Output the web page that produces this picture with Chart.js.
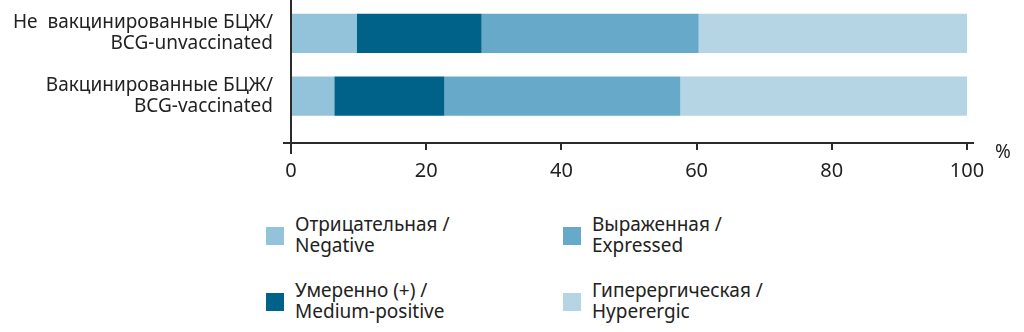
<!DOCTYPE html>
<html lang="ru">
<head>
<meta charset="utf-8">
<script src="https://cdn.jsdelivr.net/npm/chart.js"></script>
<style>
    body { margin: 0; background: #fff; font-family: "Noto Sans", sans-serif; color: #222; }
    .grafico { position: relative; width: 1024px; height: 190px; }
    .legenda {
        position: absolute; left: 266px; top: 214px;
        display: grid; grid-template-rows: 66px 66px; grid-template-columns: 297px 297px;
        grid-auto-flow: column;
    }
    .legenda-item { display: flex; align-items: flex-start; }
    .legenda-icone { width: 18px; height: 18px; margin: 13px 11px 0 0; flex: none; }
    .legenda-texto { font-size: 19px; line-height: 21px; }
</style>
</head>
<body>
<div class="grafico"><canvas id="report"></canvas></div>
<div class="legenda"></div>

<script>
// Группы (сверху вниз)
const categoriasRu = ['Не  вакцинированные БЦЖ', 'Вакцинированные БЦЖ'];
const categoriasEn = ['BCG-unvaccinated', 'BCG-vaccinated'];

// Тип реакции
const seriesRu = ['Отрицательная', 'Умеренно (+)', 'Выраженная', 'Гиперергическая'];
const seriesEn = ['Negative', 'Medium-positive', 'Expressed', 'Hyperergic'];

// Доля, %  (по группам)
const negativa = [9.7, 6.4];
const moderada = [18.5, 16.3];
const expressa = [32.1, 34.9];
const hiperergica = [39.7, 42.4];

const xTicks = [0, 20, 40, 60, 80, 100];

const colors = ['#93c3da', '#006289', '#66a9c8', '#b5d4e4'];
const valores = [negativa, moderada, expressa, hiperergica];

// eixo das categorias: meia faixa acima da primeira, espaço maior abaixo da última
const yMin = -0.5;
const yMax = 1.745;

const fonte = '"Noto Sans", sans-serif';
const corTexto = '#222';
const corEixo = '#2b2b2b';

// linhas dos eixos com as pontas prolongadas + o sinal "%"
const eixos = {
    id: 'eixos',
    afterDraw(chart) {
        const ctx = chart.ctx;
        const area = chart.chartArea;
        const x = chart.scales.x;
        const x0 = x.getPixelForValue(0);
        const x100 = x.getPixelForValue(100);
        ctx.save();
        ctx.strokeStyle = corEixo;
        ctx.lineWidth = 2;
        ctx.beginPath();
        ctx.moveTo(x0, 0);
        ctx.lineTo(x0, area.bottom + 11);
        ctx.moveTo(x0 - 8, area.bottom);
        ctx.lineTo(x100 + 7, area.bottom);
        ctx.stroke();
        ctx.fillStyle = corTexto;
        ctx.font = '19px ' + fonte;
        ctx.textAlign = 'left';
        ctx.textBaseline = 'middle';
        ctx.fillText('%', x100 + 28, area.bottom + 10);
        ctx.restore();
    }
};

const datasets = valores.map((serie, i) => ({
    label: seriesRu[i] + ' / ' + seriesEn[i],
    data: serie.map((v, j) => ({ x: v, y: j })),
    backgroundColor: colors[i],
    borderWidth: 0,
    barPercentage: 0.625,
    categoryPercentage: 1
}));

const ctx = document.getElementById('report').getContext('2d');
const report_container = new Chart(ctx, {
    type: 'bar',
    data: { datasets: datasets },
    plugins: [eixos],
    options: {
        indexAxis: 'y',
        responsive: true,
        maintainAspectRatio: false,
        animation: false,
        layout: { padding: { top: 2, right: 57, left: 0, bottom: 0 } },
        plugins: {
            legend: { display: false },
            tooltip: {
                callbacks: {
                    title: items => categoriasRu[items[0].parsed.y],
                    label: item => `${item.dataset.label}: ${item.parsed.x}%`
                }
            }
        },
        scales: {
            x: {
                stacked: true,
                min: 0,
                max: 100,
                afterBuildTicks: scale => { scale.ticks = xTicks.map(v => ({ value: v })); },
                afterFit: scale => { scale.height = 47; },
                border: { display: false },
                grid: { drawOnChartArea: false, drawTicks: true, tickLength: 7, color: corEixo, lineWidth: 2 },
                ticks: { color: corTexto, font: { family: fonte, size: 20 }, padding: 9, maxRotation: 0 }
            },
            y: {
                type: 'linear',
                stacked: true,
                reverse: true,
                offset: false,
                bounds: 'data',
                min: yMin,
                max: yMax,
                afterBuildTicks: scale => {
                    scale.ticks = categoriasRu.map((c, i) => ({ value: i }));
                    scale.min = yMin;
                    scale.max = yMax;
                },
                // os rótulos ficam dentro da área, não precisam de folga em cima/embaixo
                afterFit: scale => {
                    scale.width = 291;
                    scale.paddingTop = 0;
                    scale.paddingBottom = 0;
                },
                border: { display: false },
                grid: { display: false, drawTicks: false, offset: false },
                ticks: {
                    color: corTexto,
                    autoSkip: false,
                    font: { family: fonte, size: 19, lineHeight: 1.1 },
                    padding: 18,
                    callback: (value, index) => [categoriasRu[index] + '/', categoriasEn[index]]
                }
            }
        }
    }
});

// legenda em HTML, duas colunas
const generate_legenda = function (chart) {
    const legenda = document.querySelector('.legenda');
    legenda.innerHTML = '';
    chart.data.datasets.forEach((ds, index) => {
        legenda.insertAdjacentHTML('beforeend', `
            <div class="legenda-item">
                <span class="legenda-icone" style="background-color: ${ds.backgroundColor}"></span>
                <span class="legenda-texto">${seriesRu[index]} /<br>${seriesEn[index]}</span>
            </div>
        `);
    });
};
generate_legenda(report_container);
</script>
</body>
</html>
